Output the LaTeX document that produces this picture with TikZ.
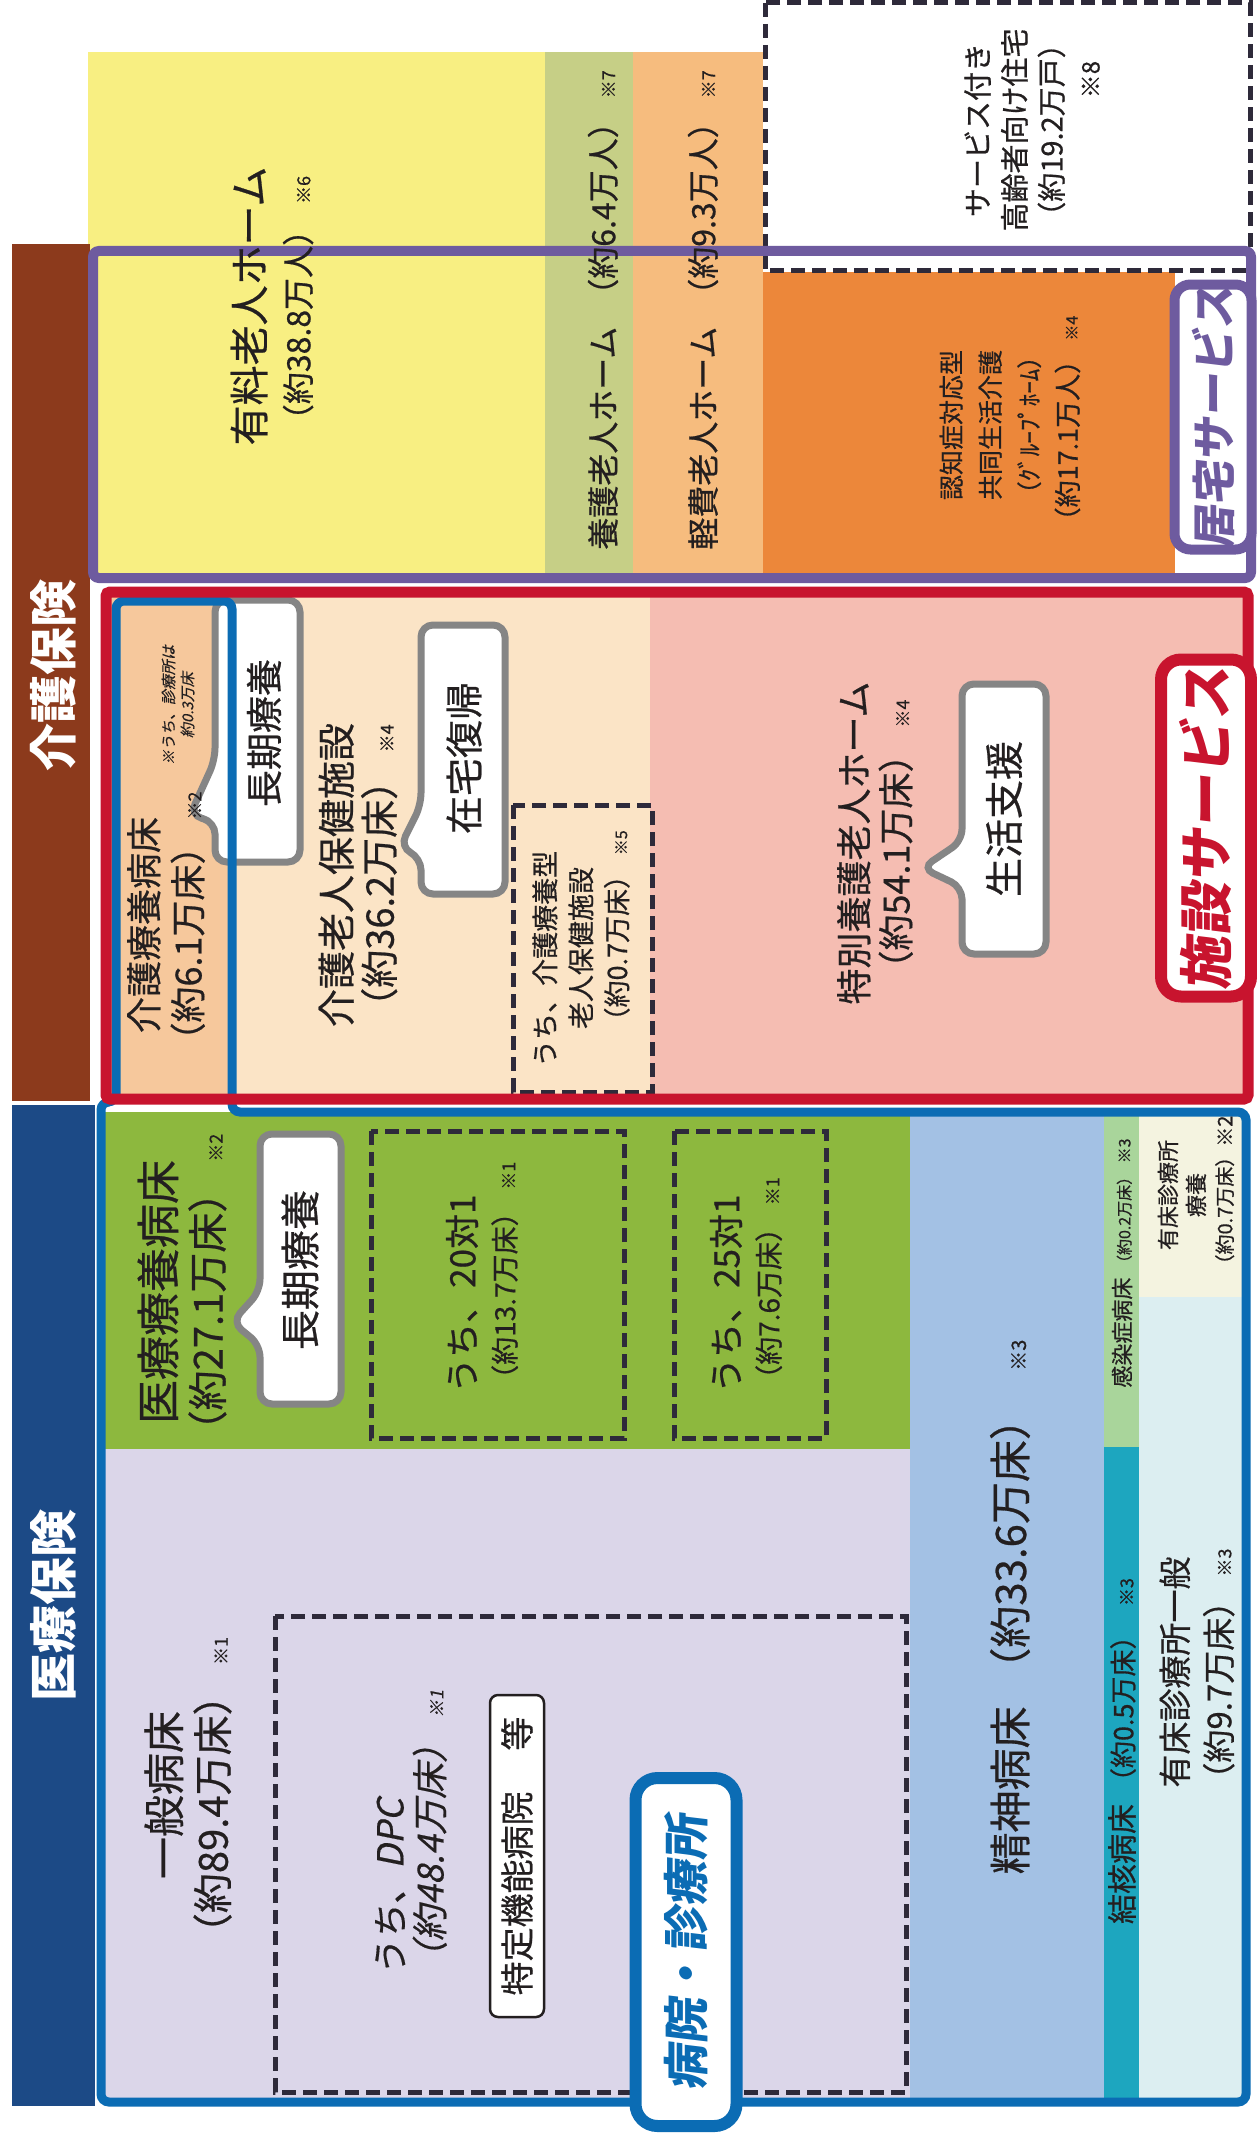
\documentclass[tikz,border=0pt]{standalone}
\usepackage{fontspec}
\setmainfont{Noto Sans CJK JP}[UprightFeatures={FakeBold=0.6}]
\newfontfamily\slantjp{Noto Sans CJK JP}[FakeSlant=0.2,FakeBold=0.4]
\newfontfamily\labjp{Noto Sans CJK JP}[FakeSlant=0.12]
\usetikzlibrary{positioning}
\definecolor{ink}{HTML}{231F20}
\definecolor{yel}{HTML}{F8EF82}
\definecolor{sage}{HTML}{C6CF86}
\definecolor{lorange}{HTML}{F6BC7E}
\definecolor{orange}{HTML}{EC873A}
\definecolor{peach}{HTML}{F6C89C}
\definecolor{cream}{HTML}{FBE4C6}
\definecolor{pink}{HTML}{F5BDB2}
\definecolor{mgreen}{HTML}{8DB83E}
\definecolor{lav}{HTML}{DBD6E9}
\definecolor{lblue}{HTML}{A3C1E4}
\definecolor{igreen}{HTML}{A9D59B}
\definecolor{teal}{HTML}{1DA6BF}
\definecolor{creamb}{HTML}{F4F3E0}
\definecolor{cyanb}{HTML}{DCEEF1}
\definecolor{brownbar}{HTML}{8C3A1C}
\definecolor{navy}{HTML}{1C4A86}
\definecolor{bframe}{HTML}{0B6CB4}
\definecolor{rframe}{HTML}{C8142E}
\definecolor{purp}{HTML}{6E5B9F}
\definecolor{cgray}{HTML}{858585}
\definecolor{dashc}{HTML}{2E2A3A}
\newcommand{\fz}[2]{\fontsize{#1}{#2}\selectfont}
\newcommand{\kome}[2][18]{\hspace{0.25em}{\fz{#1}{#1}※#2}}
\begin{document}
\begin{tikzpicture}[x=1pt,y=-1pt,
	txt/.style={rotate=90,align=center,inner sep=0pt,text=ink},
	callout/.style={draw=cgray,line width=7pt,fill=white,rounded corners=12pt},
	dbox/.style={draw=dashc,line width=5pt,dash pattern=on 14pt off 7pt}]
	\useasboundingbox (0,0) rectangle (1257,2135);
	\fill[white] (0,0) rectangle (1257,2135);
	% colour blocks
	\foreach \c/\xa/\ya/\xb/\yb in {yel/88/52/545/578, sage/545/52/633/578, lorange/633/52/763/578, orange/763/272/1175/578, peach/111/596/232/1095, cream/232/596/650/1095, pink/650/596/1243/1095, mgreen/101/1112/910/1449, lav/101/1449/910/2102, lblue/910/1112/1104/2102, igreen/1104/1112/1139/1447, teal/1104/1447/1139/2102, creamb/1139/1112/1242/1297, cyanb/1139/1297/1242/2102}
		\fill[\c] (\xa,\ya) rectangle (\xb,\yb);
	\fill[brownbar] (12,244) rectangle (90,1101);
	\fill[navy] (12,1105) rectangle (95,2106);
	% dashed boxes
	\fill[white] (765,3) rectangle (1250,271);
	\draw[dbox] (765,3) rectangle (1250,271);
	\foreach \xa/\ya/\xb/\yb in {513/805/652/1092, 371/1131/624/1438, 674/1131/826/1438, 275/1616/906/2092}
		\draw[dbox] (\xa,\ya) rectangle (\xb,\yb);
	% callouts
	\draw[callout] (215,760) -- (190,815) -- (215,822) -- (215,862) -- (300,862) -- (300,600) -- (215,600) -- cycle;
	\draw[callout] (421,805) -- (400,847) -- (421,858) -- (421,894) -- (505,894) -- (505,625) -- (421,625) -- cycle;
	\draw[callout] (962,841) -- (922,868) -- (962,887) -- (962,954) -- (1046,954) -- (1046,684) -- (962,684) -- cycle;
	\draw[callout] (260,1291) -- (232,1322) -- (260,1345) -- (260,1404) -- (341,1404) -- (341,1134) -- (260,1134) -- cycle;
	% frames
	\draw[bframe,line width=9pt,rounded corners=8pt] (232,601) -- (116,601) -- (116,1102) -- (101,1102) -- (101,2102) -- (1246,2102) -- (1246,1112) -- (232,1112) -- cycle;
	\draw[rframe,line width=11pt,rounded corners=4pt] (106,592) rectangle (1248,1099);
	\draw[purp,line width=10pt,rounded corners=6pt] (93,251) rectangle (1251,578);
	% side bars
	\node[txt,text=white,font=\bfseries\fz{48}{48}] (kaigo) at (53,675) {介護保険};
	\node[txt,text=white,font=\bfseries\fz{48}{48}] (iryo) at (53,1605) {医療保険};
	% kyotaku
	\node[txt,font=\fz{40}{46}] (yuryo) at (272,306) {有料老人ホーム\\{\fz{32}{46}（約38.8万人）}\kome{6}};
	\node[txt,font=\fz{32}{36}] (yogo) at (603,310) {養護老人ホーム\hspace{0.5em}（約6.4万人）\kome{7}};
	\node[txt,font=\fz{32}{36}] (keihi) at (703,310) {軽費老人ホーム\hspace{0.5em}（約9.3万人）\kome{7}};
	\node[txt,font=\fz{25}{39}] (gh) at (1010,425) {認知症対応型\\共同生活介護\\（ｸﾞﾙｰﾌﾟﾎｰﾑ）\\{\fz{27}{39}（約17.1万人）}\kome[16]{4}};
	\node[txt,font=\fz{29}{37}] (sakoju) at (1032,130) {サービス付き\\高齢者向け住宅\\（約19.2万戸）\\{\fz{24}{37}\hspace*{4.2em}※8}};
	\node[txt,draw=purp,line width=10pt,fill=white,rounded corners=16pt,minimum width=265pt,minimum height=77pt,text=purp,font=\labjp\bfseries\fz{44}{44}] (kyotaku) at (1213,417) {居宅サービス};
	% shisetsu
	\node[txt,font=\fz{36}{44}] (kaiyo) at (166,925) {介護療養病床\\（約6.1万床）\kome{2}};
	\node[txt,font=\slantjp\fz{15}{19}] (kaiyonote) at (178,705) {※うち、診療所は\\約0.3万床};
	\node[txt,font=\fz{37}{37}] (choki) at (264,733) {長期療養};
	\node[txt,font=\fz{38}{43}] (roken) at (358,875) {介護老人保健施設\\（約36.2万床）\kome{4}};
	\node[txt,font=\fz{38}{38}] (zaitaku) at (464,758) {在宅復帰};
	\node[txt,align=left,anchor=west,font=\fz{27}{36}] (ryoyogata) at (581,1067) {うち、介護療養型\\\hspace*{1.4em}老人保健施設\\\hspace*{1.2em}（約0.7万床）\kome[16]{5}};
	\node[txt,font=\fz{36}{42}] (tokuyo) at (875,843) {特別養護老人ホーム\\（約54.1万床）\kome{4}};
	\node[txt,font=\fz{39}{39}] (seikatsu) at (1004,819) {生活支援};
	\node[txt,draw=rframe,line width=12pt,fill=white,rounded corners=20pt,minimum width=337pt,minimum height=90pt,text=rframe,font=\labjp\bfseries\fz{54}{54}] (shisetsu) at (1206,828) {施設サービス};
	% byoin
	\node[txt,font=\fz{44}{48}] (iryoyo) at (182,1292) {医療療養病床\\{\fz{40}{48}（約27.1万床）}\kome{2}};
	\node[txt,font=\fz{40}{40}] (chokib) at (300,1270) {長期療養};
	\node[txt,align=left,anchor=west,font=\fz{35}{40}] (nijyu) at (482,1393) {うち、20対1\\{\fz{28}{40}（約13.7万床）}\kome{1}};
	\node[txt,align=left,anchor=west,font=\fz{35}{40}] (nijugo) at (746,1393) {うち、25対1\\{\fz{28}{40}（約7.6万床）}\kome{1}};
	\node[txt,font=\fz{42}{48}] (ippan) at (188,1795) {一般病床\\{\fz{40}{48}（約89.4万床）}\kome{1}};
	\node[txt,align=left,anchor=west,font=\slantjp\fz{36}{40}] (dpc) at (411,1977) {うち、DPC\\（約48.4万床）\kome{1}};
	\node[txt,draw=ink,line width=2.5pt,fill=white,rounded corners=8pt,minimum width=322pt,minimum height=54pt,font=\fz{34}{34}] (tokutei) at (517,1856) {特定機能病院\hspace{1.2em}等};
	\node[txt,draw=bframe,line width=12pt,fill=white,rounded corners=22pt,minimum width=348pt,minimum height=101pt,text=bframe,font=\labjp\bfseries\fz{46}{46}] (byoin) at (686,1952) {病院・診療所};
	\node[txt,font=\fz{42}{42}] (seishin) at (1010,1607) {精神病床\hspace{0.4em}（約33.6万床）\hspace{0.4em}\kome[20]{3}};
	\node[txt,font=\fz{22}{22}] (kansen) at (1122,1263) {感染症病床\hspace{0.3em}{\fz{16}{16}（約0.2万床）}\kome[16]{3}};
	\node[txt,font=\fz{22}{28}] (yushoa) at (1196,1195) {有床診療所\\療養\\{\fz{20}{28}（約0.7万床）※2}};
	\node[txt,font=\fz{30}{30}] (kekkaku) at (1122,1751) {結核病床\hspace{0.3em}{\fz{27}{27}（約0.5万床）}\hspace{0.3em}\kome{3}};
	\node[txt,font=\fz{33}{44}] (yushob) at (1197,1672) {有床診療所一般\\（約9.7万床）\kome{3}};
\end{tikzpicture}
\end{document}
